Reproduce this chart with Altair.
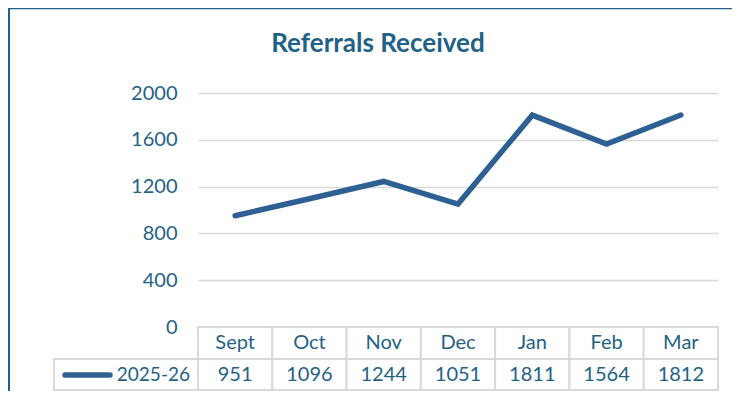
import altair as alt
import pandas as pd

months = ["Sept", "Oct", "Nov", "Dec", "Jan", "Feb", "Mar"]
referrals = [951, 1096, 1244, 1051, 1811, 1564, 1812]
series_name = "2025-26"
title_text = "Referrals Received"
y_ticks = [0, 400, 800, 1200, 1600, 2000]

TEXT = "#1F6287"
LINE = "#2E6094"
GRID = "#D9D9D9"
FRAME = "#1F6287"
FONT = "Lato"

W, H = 520, 234
PAD_L, PAD_T, PAD_R, PAD_B = 190, 85, 14, 64
ROW1, ROW2 = 32, 63  # table row boundaries below the plot

df = pd.DataFrame({"month": months, "value": referrals})
series_df = pd.DataFrame({"series": [series_name]})
title_df = pd.DataFrame({"t": [title_text]})

xscale = alt.Scale(type="band", paddingInner=0, paddingOuter=0)


def xenc(bp=0.5):
    return alt.X("month:N", sort=months, scale=xscale, axis=None, bandPosition=bp)


base = alt.Chart(df)

line = base.mark_line(color=LINE, strokeWidth=5.5, strokeCap="round", strokeJoin="miter").encode(
    x=xenc(),
    y=alt.Y(
        "value:Q",
        scale=alt.Scale(domain=[0, 2000], nice=False, zero=True),
        axis=alt.Axis(
            values=y_ticks, format="d", title=None, domain=False, ticks=False, grid=True,
            gridColor=GRID, gridWidth=1.5, labelColor=TEXT, labelFont=FONT,
            labelFontSize=20, labelPadding=21,
        ),
    ),
)

header_cells = base.mark_rect(fill="white", stroke=GRID, strokeWidth=2).encode(
    x=alt.X("month:N", sort=months, scale=xscale, axis=None),
    y=alt.value(H), y2=alt.value(H + ROW1),
)
value_cells = base.mark_rect(fill="white", stroke=GRID, strokeWidth=2).encode(
    x=alt.X("month:N", sort=months, scale=xscale, axis=None),
    y=alt.value(H + ROW1), y2=alt.value(H + ROW2),
)
header_text = base.mark_text(font=FONT, fontSize=20, color=TEXT, baseline="middle").encode(
    x=xenc(), y=alt.value(H + 16), text="month:N"
)
value_text = base.mark_text(font=FONT, fontSize=20, color=TEXT, baseline="middle").encode(
    x=xenc(), y=alt.value(H + 48), text="value:Q"
)

sc = alt.Chart(series_df)
legend_cell = sc.mark_rect(fill="white", stroke=GRID, strokeWidth=2).encode(
    x=alt.value(-144), x2=alt.value(0), y=alt.value(H + ROW1), y2=alt.value(H + ROW2)
)
legend_line = sc.mark_rule(color=LINE, strokeWidth=5.5, strokeCap="round").encode(
    x=alt.value(-133), x2=alt.value(-88), y=alt.value(H + 48)
)
legend_text = sc.mark_text(font=FONT, fontSize=19, color=TEXT, align="right", baseline="middle").encode(
    x=alt.value(-8), y=alt.value(H + 48), text="series:N"
)

title = alt.Chart(title_df).mark_text(
    font=FONT, fontSize=26, fontWeight="bold", color=TEXT, align="center", baseline="alphabetic"
).encode(x=alt.value(180), y=alt.value(-41), text="t:N")

frame_top = sc.mark_rule(color=FRAME, strokeWidth=1.5).encode(
    x=alt.value(-189), x2=alt.value(W + PAD_R), y=alt.value(-84.5)
)
frame_left = sc.mark_rule(color=FRAME, strokeWidth=2).encode(
    x=alt.value(-189), y=alt.value(-85), y2=alt.value(H + PAD_B)
)

chart = alt.layer(
    header_cells, value_cells, legend_cell, line, header_text, value_text,
    legend_line, legend_text, title, frame_top, frame_left,
).properties(
    width=W, height=H,
    autosize=alt.AutoSizeParams(type="none"),
    padding={"left": PAD_L, "top": PAD_T, "right": PAD_R, "bottom": PAD_B},
).configure(background="white").configure_view(stroke=None)

chart.save("out.html", embed_options={"renderer": "svg", "actions": False})
